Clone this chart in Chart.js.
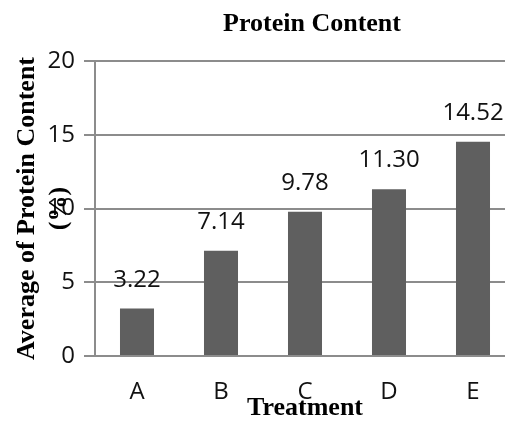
<!DOCTYPE html>
<html>
<head>
<meta charset="utf-8">
<script src="https://cdn.jsdelivr.net/npm/chart.js@4.4.1/dist/chart.umd.min.js"></script>
<style>
  html, body { margin: 0; padding: 0; background: #fff; overflow: hidden; }
  #wrap { width: 530px; height: 425px; }
</style>
</head>
<body>
<div id="wrap"><canvas id="c" width="530" height="425"></canvas></div>
<script>
// Protein content per treatment
const treatments = ['A', 'B', 'C', 'D', 'E'];
const proteinValues = [3.22, 7.14, 9.78, 11.30, 14.52];
const valueLabels = ['3.22', '7.14', '9.78', '11.30', '14.52'];
const yTickValues = [0, 5, 10, 15, 20];

const chartTitle = 'Protein Content';
const yTitleLines = ['Average of Protein Content', '(%)'];
const xTitle = 'Treatment';

const SANS = '"Open Sans", "Liberation Sans", sans-serif';
const SERIF = '"Liberation Serif", "DejaVu Serif", serif';
const GRID = '#8c8c8c';

// Value labels above the bars, and the chart / axis titles
const annotate = {
  id: 'annotate',
  afterDatasetsDraw(chart) {
    const ctx = chart.ctx;
    const meta = chart.getDatasetMeta(0);
    ctx.save();
    ctx.fillStyle = '#111';
    ctx.font = '24px ' + SANS;
    ctx.textAlign = 'center';
    ctx.textBaseline = 'alphabetic';
    meta.data.forEach((bar, i) => {
      ctx.fillText(valueLabels[i], bar.x, bar.y - 22);
    });
    ctx.restore();
  },
  afterDraw(chart) {
    const ctx = chart.ctx;
    const area = chart.chartArea;
    const midX = (area.left + area.right) / 2;
    const midY = (area.top + area.bottom) / 2;
    ctx.save();
    ctx.fillStyle = '#000';
    ctx.font = 'bold 26px ' + SERIF;
    ctx.textAlign = 'center';
    ctx.textBaseline = 'alphabetic';
    ctx.fillText(chartTitle, midX + 7, 31);
    ctx.fillText(xTitle, midX, area.bottom + 59);
    ctx.translate(0, midY);
    ctx.rotate(-Math.PI / 2);
    ctx.fillText(yTitleLines[0], 0, 34);
    ctx.fillText(yTitleLines[1], 0, 66);
    ctx.restore();
  }
};

new Chart(document.getElementById('c'), {
  type: 'bar',
  data: {
    labels: treatments,
    datasets: [{
      data: proteinValues,
      backgroundColor: '#5f5f5f',
      borderWidth: 0,
      categoryPercentage: 1,
      barPercentage: 0.405
    }]
  },
  options: {
    responsive: false,
    animation: false,
    devicePixelRatio: 1,
    layout: { padding: { top: 61, right: 15, left: 0, bottom: 0 } },
    plugins: {
      legend: { display: false },
      title: { display: false },
      tooltip: { enabled: false }
    },
    scales: {
      x: {
        grid: { display: false, drawTicks: false },
        border: { display: true, color: GRID, width: 2 },
        ticks: {
          color: '#111',
          font: { family: SANS, size: 24 },
          padding: 22,
          maxRotation: 0
        },
        afterFit(scale) { scale.height = 69; scale.paddingLeft = 0; scale.paddingRight = 0; }
      },
      y: {
        min: 0,
        max: 20,
        afterBuildTicks(scale) { scale.ticks = yTickValues.map(v => ({ value: v })); },
        grid: { color: GRID, lineWidth: 2, tickLength: 11, drawTicks: true },
        border: { display: true, color: GRID, width: 2 },
        ticks: {
          color: '#111',
          font: { family: SANS, size: 24 },
          padding: 9
        },
        afterFit(scale) { scale.width = 95; }
      }
    }
  },
  plugins: [annotate]
});
</script>
</body>
</html>
